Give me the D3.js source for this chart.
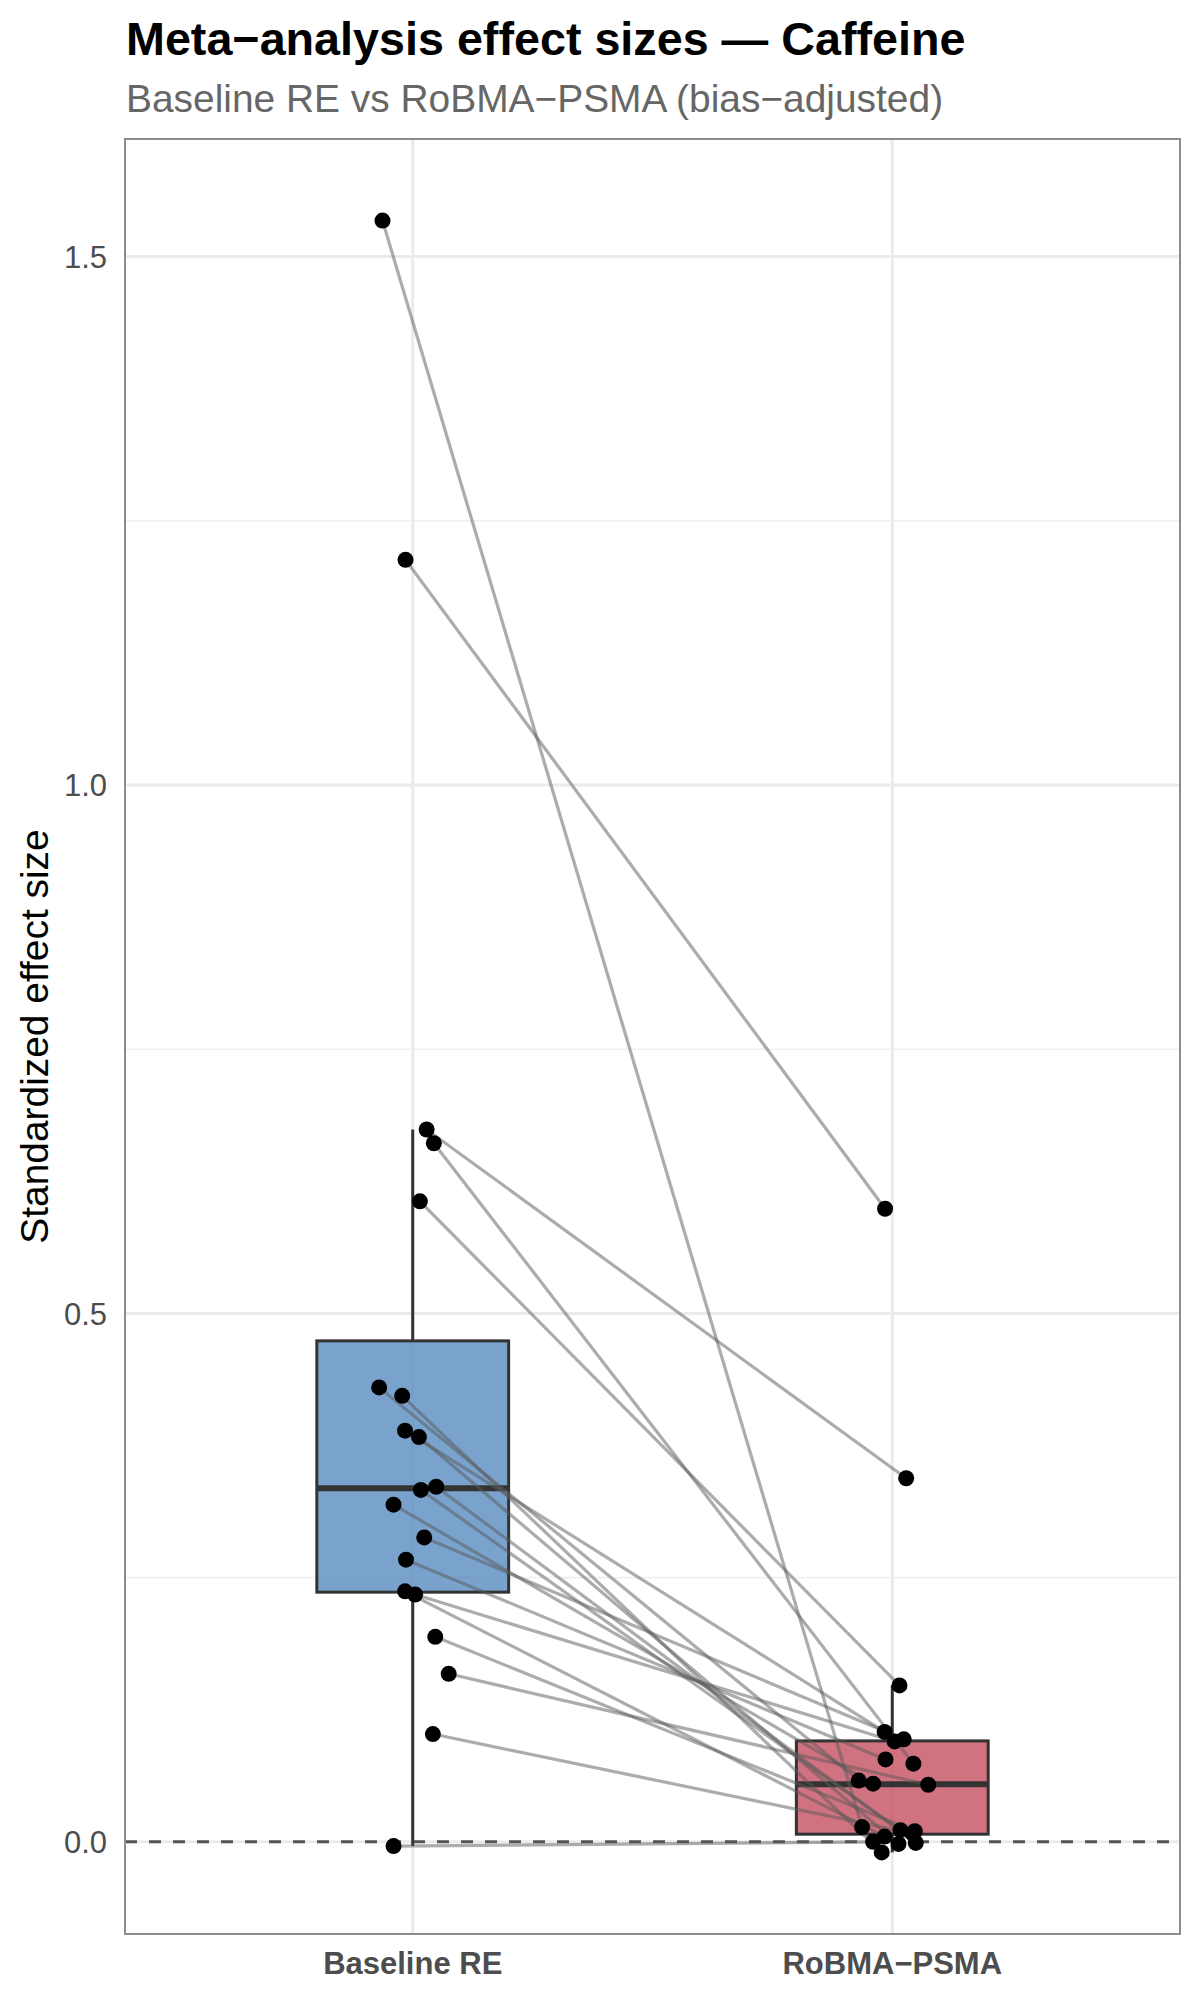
<!DOCTYPE html>
<html>
<head>
<meta charset="utf-8">
<script src="https://cdn.jsdelivr.net/npm/d3@7"></script>
<style>
  body { margin: 0; background: #fff; }
  text { font-family: "Liberation Sans", Arial, Helvetica, sans-serif; }
</style>
</head>
<body>
<script>
/*Original data: one entry per study*/
const groups = ['Baseline RE', 'RoBMA\u2212PSMA'];
const baseline = [1.534, 1.213, 0.674, 0.661, 0.606, 0.430, 0.422, 0.389, 0.383, 0.336,
                  0.333, 0.319, 0.288, 0.267, 0.237, 0.234, 0.194, 0.159, 0.102, -0.004];
const robma = [0.014, 0.599, 0.344, 0.074, 0.148, 0.058, -0.010, 0.104, -0.002, -0.001,
               0.011, 0.055, 0.097, 0.078, 0.005, 0.095, 0.010, 0.054, 0.008, 0.000];
/*horizontal jitter per study, in category units (shared by both columns)*/
const jitter = [-0.063, -0.015, 0.029, 0.044, 0.015, -0.070, -0.022, -0.016, 0.013, 0.049,
                0.017, -0.040, 0.024, -0.014, -0.016, 0.005, 0.047, 0.075, 0.042, -0.040];
const yTicks = [0, 0.5, 1.0, 1.5];
const yMinor = [0.25, 0.75, 1.25];
const fills = ['#578cc0', '#c44f5f'];

/*canvas size*/
const width = 1200;
const height = 2000;
const panel = { top: 139, bottom: 1934, left: 125, right: 1180 };

const svg = d3.select('body').append('svg')
    .attr('width', width)
    .attr('height', height);

/*scales*/
const xScale = d3.scalePoint()
    .domain(groups)
    .range([panel.left, panel.right])
    .padding(0.6);
const step = xScale.step();

const all = baseline.concat(robma);
const lo = d3.min(all), hi = d3.max(all);
const pad = (hi - lo) * 0.05;
const yScale = d3.scaleLinear()
    .domain([lo - pad, hi + pad])
    .range([panel.bottom, panel.top]);

/*grid*/
const grid = svg.append('g');
grid.selectAll('.minor').data(yMinor).enter().append('line')
    .attr('x1', panel.left).attr('x2', panel.right)
    .attr('y1', d => yScale(d)).attr('y2', d => yScale(d))
    .attr('stroke', '#f0f0f0').attr('stroke-width', 1.6);
grid.selectAll('.major').data(yTicks).enter().append('line')
    .attr('x1', panel.left).attr('x2', panel.right)
    .attr('y1', d => yScale(d)).attr('y2', d => yScale(d))
    .attr('stroke', '#ebebeb').attr('stroke-width', 3);
grid.selectAll('.vmajor').data(groups).enter().append('line')
    .attr('x1', d => xScale(d)).attr('x2', d => xScale(d))
    .attr('y1', panel.top).attr('y2', panel.bottom)
    .attr('stroke', '#ebebeb').attr('stroke-width', 3);

/*zero reference line*/
svg.append('line')
    .attr('x1', panel.left).attr('x2', panel.right)
    .attr('y1', yScale(0)).attr('y2', yScale(0))
    .attr('stroke', '#555').attr('stroke-width', 3)
    .attr('stroke-dasharray', '12,12');

/*box stats (same quantile rule as R type 7)*/
function boxStats(values) {
    const s = values.slice().sort(d3.ascending);
    const q1 = d3.quantile(s, 0.25), med = d3.quantile(s, 0.5), q3 = d3.quantile(s, 0.75);
    const iqr = q3 - q1;
    const lowW = d3.min(s.filter(v => v >= q1 - 1.5 * iqr));
    const highW = d3.max(s.filter(v => v <= q3 + 1.5 * iqr));
    return { q1, med, q3, lowW, highW };
}
const stats = [boxStats(baseline), boxStats(robma)];
const boxW = step * 0.4;

const boxes = svg.append('g').selectAll('g').data(stats).enter().append('g');
boxes.append('line')
    .attr('x1', (d, i) => xScale(groups[i])).attr('x2', (d, i) => xScale(groups[i]))
    .attr('y1', d => yScale(d.highW)).attr('y2', d => yScale(d.q3))
    .attr('stroke', '#333').attr('stroke-width', 3);
boxes.append('line')
    .attr('x1', (d, i) => xScale(groups[i])).attr('x2', (d, i) => xScale(groups[i]))
    .attr('y1', d => yScale(d.q1)).attr('y2', d => yScale(d.lowW))
    .attr('stroke', '#333').attr('stroke-width', 3);
boxes.append('rect')
    .attr('x', (d, i) => xScale(groups[i]) - boxW / 2)
    .attr('y', d => yScale(d.q3))
    .attr('width', boxW)
    .attr('height', d => yScale(d.q1) - yScale(d.q3))
    .attr('fill', (d, i) => fills[i]).attr('fill-opacity', 0.8)
    .attr('stroke', '#333').attr('stroke-width', 3);
boxes.append('line')
    .attr('x1', (d, i) => xScale(groups[i]) - boxW / 2)
    .attr('x2', (d, i) => xScale(groups[i]) + boxW / 2)
    .attr('y1', d => yScale(d.med)).attr('y2', d => yScale(d.med))
    .attr('stroke', '#333').attr('stroke-width', 6);

/*paired lines*/
const studies = baseline.map((b, i) => ({ b: b, r: robma[i], j: jitter[i] }));
svg.append('g').selectAll('line').data(studies).enter().append('line')
    .attr('x1', d => xScale(groups[0]) + d.j * step)
    .attr('x2', d => xScale(groups[1]) + d.j * step)
    .attr('y1', d => yScale(d.b)).attr('y2', d => yScale(d.r))
    .attr('stroke', '#5a5a5a').attr('stroke-opacity', 0.5).attr('stroke-width', 3.2);

/*points*/
const pts = svg.append('g');
pts.selectAll('.pb').data(studies).enter().append('circle')
    .attr('cx', d => xScale(groups[0]) + d.j * step)
    .attr('cy', d => yScale(d.b)).attr('r', 8).attr('fill', '#000');
pts.selectAll('.pr').data(studies).enter().append('circle')
    .attr('cx', d => xScale(groups[1]) + d.j * step)
    .attr('cy', d => yScale(d.r)).attr('r', 8).attr('fill', '#000');

/*panel border*/
svg.append('rect')
    .attr('x', panel.left).attr('y', panel.top)
    .attr('width', panel.right - panel.left).attr('height', panel.bottom - panel.top)
    .attr('fill', 'none').attr('stroke', '#8c8c8c').attr('stroke-width', 2);

/*y axis labels*/
svg.append('g').selectAll('text').data(yTicks).enter().append('text')
    .attr('x', 107).attr('y', d => yScale(d)).attr('dy', '0.36em')
    .attr('text-anchor', 'end').attr('font-size', 31).attr('fill', '#4d4d4d')
    .text(d => d.toFixed(1));

/*x axis labels*/
svg.append('g').selectAll('text').data(groups).enter().append('text')
    .attr('x', d => xScale(d)).attr('y', 1974)
    .attr('text-anchor', 'middle').attr('font-size', 31).attr('font-weight', 'bold')
    .attr('fill', '#4d4d4d')
    .text(d => d);

/*titles*/
svg.append('text').attr('x', 126).attr('y', 55)
    .attr('font-size', 46.7).attr('font-weight', 'bold').attr('fill', '#000')
    .text('Meta\u2212analysis effect sizes \u2014 Caffeine');
svg.append('text').attr('x', 126).attr('y', 112)
    .attr('font-size', 38.9).attr('fill', '#666')
    .text('Baseline RE vs RoBMA\u2212PSMA (bias\u2212adjusted)');
svg.append('text')
    .attr('transform', `translate(48, ${(panel.top + panel.bottom) / 2}) rotate(-90)`)
    .attr('text-anchor', 'middle').attr('font-size', 38.9).attr('fill', '#000')
    .text('Standardized effect size');
</script>
</body>
</html>
